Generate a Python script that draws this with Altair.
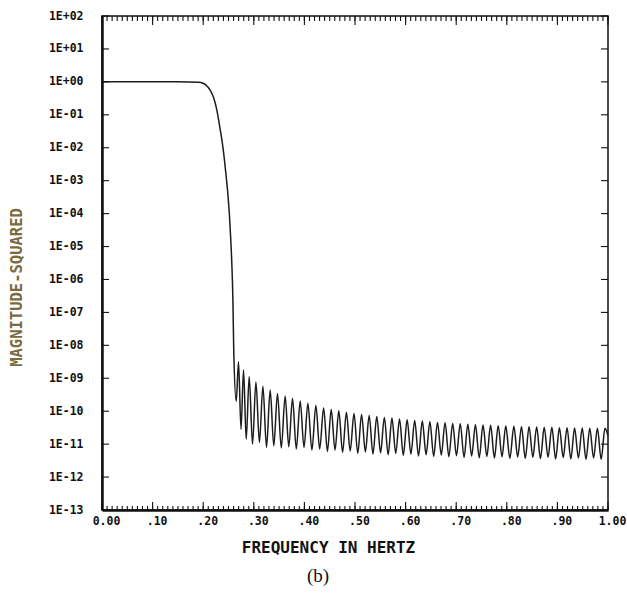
import json
import altair as alt
import pandas as pd

# ---------------- data ----------------
# passband and transition band: frequency (Hz), log10(magnitude-squared)
trans_freq = [0.0, 0.05, 0.10, 0.15, 0.19, 0.200, 0.207, 0.214, 0.221, 0.227,
              0.232, 0.237, 0.2415, 0.2455, 0.249, 0.252, 0.2545, 0.2568, 0.2587, 0.2603]
trans_log = [0.0, 0.0, 0.0, 0.0, -0.01, -0.04, -0.12, -0.26, -0.50, -0.86,
             -1.30, -1.77, -2.30, -2.88, -3.45, -4.09, -4.80, -5.61, -6.62, -8.10]

# stopband ripple maxima
peak_freq = [0.2698, 0.2797, 0.2909, 0.3042, 0.3180, 0.3324, 0.3468, 0.3620, 0.3765, 0.3917,
             0.4069, 0.4227,
             0.438, 0.453, 0.468, 0.483, 0.498, 0.513, 0.528, 0.543, 0.558, 0.573,
             0.588, 0.603, 0.618, 0.633, 0.648, 0.663, 0.678, 0.693, 0.708, 0.723,
             0.738, 0.753, 0.768, 0.783, 0.798, 0.814, 0.829, 0.844, 0.859, 0.874,
             0.889, 0.904, 0.919, 0.934, 0.949, 0.964, 0.979, 0.994]
peak_log = [-8.50, -8.75, -8.95, -9.11, -9.24, -9.36, -9.46, -9.54, -9.61, -9.69,
            -9.76, -9.83,
            -9.90, -9.95, -9.99, -10.03, -10.07, -10.10, -10.13, -10.16, -10.19, -10.21,
            -10.24, -10.26, -10.28, -10.30, -10.32, -10.34, -10.35, -10.37, -10.38, -10.40,
            -10.41, -10.42, -10.43, -10.44, -10.45, -10.46, -10.47, -10.47, -10.48, -10.49,
            -10.49, -10.50, -10.50, -10.51, -10.51, -10.52, -10.52, -10.52]

# stopband ripple minima
trough_freq = [0.2653, 0.2747, 0.2850, 0.2975, 0.3111, 0.3251, 0.3395, 0.3543, 0.3691, 0.3840,
               0.3992, 0.4148, 0.4302,
               0.4455, 0.4605, 0.4755, 0.4905, 0.5055, 0.5205, 0.5355, 0.5505, 0.5655, 0.5805,
               0.5955, 0.6105, 0.6255, 0.6405, 0.6555, 0.6705, 0.6855, 0.7005, 0.7155, 0.7305,
               0.7455, 0.7605, 0.7755, 0.7905, 0.8060, 0.8215, 0.8365, 0.8515, 0.8665, 0.8815,
               0.8965, 0.9115, 0.9265, 0.9415, 0.9565, 0.9715, 0.9865]
trough_log = [-9.70, -10.55, -10.85, -11.00, -10.95, -11.10, -11.05, -11.12, -11.08, -11.15,
              -11.10, -11.18, -11.15,
              -11.22, -11.18, -11.25, -11.21, -11.28, -11.24, -11.30, -11.26, -11.32, -11.28,
              -11.34, -11.30, -11.36, -11.32, -11.37, -11.33, -11.38, -11.35, -11.40, -11.36,
              -11.41, -11.37, -11.42, -11.38, -11.43, -11.39, -11.43, -11.40, -11.44, -11.40,
              -11.45, -11.41, -11.45, -11.42, -11.46, -11.42, -11.46]

end_freq = [1.0]
end_log = [-10.75]

# axes
x_tick_values = [0.0, 0.1, 0.2, 0.3, 0.4, 0.5, 0.6, 0.7, 0.8, 0.9, 1.0]
x_tick_labels = ["0.00", "\u00a0.10", "\u00a0.20", "\u00a0.30", "\u00a0.40", "\u00a0.50",
                 "\u00a0.60", "\u00a0.70", "\u00a0.80", "\u00a0.90", "1.00"]
x_minor_ticks = [round(i * 0.01, 2) for i in range(101)]
y_tick_values = [1e-13, 1e-12, 1e-11, 1e-10, 1e-9, 1e-8, 1e-7, 1e-6, 1e-5, 1e-4,
                 1e-3, 1e-2, 1e-1, 1e0, 1e1, 1e2]
y_tick_labels = ["1E-13", "1E-12", "1E-11", "1E-10", "1E-09", "1E-08", "1E-07", "1E-06",
                 "1E-05", "1E-04", "1E-03", "1E-02", "1E-01", "1E+00", "1E+01", "1E+02"]

# ---------------- build table ----------------
freqs = trans_freq + peak_freq + trough_freq + end_freq
logs = trans_log + peak_log + trough_log + end_log
df = pd.DataFrame({"freq": freqs, "lg": logs}).sort_values("freq")
df["mag"] = 10.0 ** df["lg"]

W, H = 506, 494
FONT = "DejaVu Sans Mono"

x_scale = alt.Scale(domain=[0, 1], nice=False, zero=False)
y_scale = alt.Scale(type="log", domain=[1e-13, 1e2], nice=False)

x_label_expr = json.dumps(x_tick_labels) + "[round(datum.value*10)]"
y_label_expr = json.dumps(y_tick_labels) + "[round(log(datum.value)/LN10)+13]"

x_axis = alt.Axis(values=x_tick_values, labelExpr=x_label_expr,
                  title="FREQUENCY IN HERTZ", titleX=226, titleY=37,
                  titleAlign="center", titleBaseline="middle",
                  titleFont=FONT, titleFontSize=16, titleFontWeight="bold",
                  titleColor="#111",
                  labelFont=FONT, labelFontSize=11.5, labelFontWeight="bold",
                  labelColor="#111", labelPadding=5, labelOffset=4,
                  labelAlign="center", labelFlush=False, labelOverlap=False,
                  ticks=False, tickSize=0, domainColor="#111", domainWidth=2.5,
                  grid=False)
y_axis = alt.Axis(values=y_tick_values, labelExpr=y_label_expr,
                  title="MAGNITUDE-SQUARED", titleX=-86, titleY=271,
                  titleAngle=270, titleAlign="center", titleBaseline="middle",
                  titleFont=FONT, titleFontSize=15.5, titleFontWeight="bold",
                  titleColor="#7a6a3e",
                  labelFont=FONT, labelFontSize=11.5, labelFontWeight="bold",
                  labelColor="#111", labelPadding=19, labelAlign="right",
                  labelBaseline="middle", labelFlush=False, labelOverlap=False,
                  ticks=False, tickSize=0, domainColor="#111", domainWidth=2.5,
                  grid=False)

line = alt.Chart(df).mark_line(color="#1c1c1c", strokeWidth=1.5, interpolate="monotone").encode(
    x=alt.X("freq:Q", scale=x_scale, axis=x_axis),
    y=alt.Y("mag:Q", scale=y_scale, axis=y_axis),
)

minor_df = pd.DataFrame({"freq": x_minor_ticks})
major_df = pd.DataFrame({"freq": x_tick_values})
ydec_df = pd.DataFrame({"mag": y_tick_values})

rule_style = dict(color="#111", strokeWidth=1.1)

bottom_minor = alt.Chart(minor_df).mark_rule(**rule_style).encode(
    x=alt.X("freq:Q", scale=x_scale, axis=x_axis), y=alt.value(H), y2=alt.value(H - 4))
bottom_major = alt.Chart(major_df).mark_rule(**rule_style).encode(
    x=alt.X("freq:Q", scale=x_scale, axis=x_axis), y=alt.value(H), y2=alt.value(H - 8))
top_minor = alt.Chart(minor_df).mark_rule(**rule_style).encode(
    x=alt.X("freq:Q", scale=x_scale, axis=x_axis), y=alt.value(0), y2=alt.value(5))
top_major = alt.Chart(major_df).mark_rule(**rule_style).encode(
    x=alt.X("freq:Q", scale=x_scale, axis=x_axis), y=alt.value(0), y2=alt.value(9))
left_ticks = alt.Chart(ydec_df).mark_rule(**rule_style).encode(
    y=alt.Y("mag:Q", scale=y_scale, axis=y_axis), x=alt.value(0), x2=alt.value(7))
right_ticks = alt.Chart(ydec_df).mark_rule(**rule_style).encode(
    y=alt.Y("mag:Q", scale=y_scale, axis=y_axis), x=alt.value(W), x2=alt.value(W - 7))

chart = alt.layer(
    line, bottom_minor, bottom_major, top_minor, top_major, left_ticks, right_ticks
).properties(
    width=W, height=H,
    title=alt.TitleParams("(b)", orient="bottom", anchor="middle", dx=-37,
                          offset=12, font="Liberation Serif", fontSize=19,
                          fontWeight="normal", color="#111"),
    autosize=alt.AutoSizeParams(type="none"),
    padding={"left": 102, "top": 16, "right": 19, "bottom": 84},
    background="white",
).configure_view(stroke="#111", strokeWidth=1.5)

chart.save("out.html", embed_options={"renderer": "svg", "actions": False})
